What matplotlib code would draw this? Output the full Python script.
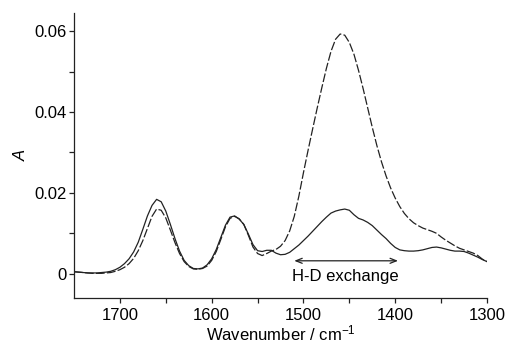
import numpy as np
import matplotlib
matplotlib.use("Agg")
import matplotlib.pyplot as plt

plt.rcParams['font.family'] = ['Liberation Sans', 'DejaVu Sans']
plt.rcParams['mathtext.default'] = 'regular'

# wavenumber grid, 1750 -> 1300 cm-1 in 5 cm-1 steps
wavenumber = np.arange(1750, 1295, -5)

# absorbance, solid trace
a_solid = [
    0.0005, 0.0004, 0.0003, 0.0002, 0.0002, 0.0002, 0.0003, 0.0004, 0.0006, 0.0010,
    0.0016, 0.0025, 0.0037, 0.0054, 0.0078, 0.0110, 0.0143, 0.0169, 0.0184, 0.0178,
    0.0155, 0.0122, 0.0087, 0.0056, 0.0033, 0.0020, 0.0013, 0.0012, 0.0014, 0.0022,
    0.0037, 0.0060, 0.0090, 0.0120, 0.0140, 0.0143, 0.0135, 0.0122, 0.0098, 0.0072,
    0.0057, 0.0055, 0.0058, 0.0058, 0.0051, 0.0047, 0.0048, 0.0053, 0.0062, 0.0071,
    0.0082, 0.0093, 0.0105, 0.0117, 0.0129, 0.0140, 0.0150, 0.0155, 0.0158, 0.0160,
    0.0157, 0.0146, 0.0137, 0.0133, 0.0127, 0.0119, 0.0108, 0.0097, 0.0087, 0.0075,
    0.0065, 0.0059, 0.0057, 0.0056, 0.0056, 0.0057, 0.0059, 0.0062, 0.0065, 0.0066,
    0.0064, 0.0061, 0.0058, 0.0056, 0.0056, 0.0055, 0.0051, 0.0046, 0.0041, 0.0035,
    0.0030,
]

# absorbance, dashed trace
a_dashed = [
    0.0005, 0.0004, 0.0003, 0.0002, 0.0001, 0.0001, 0.0001, 0.0002, 0.0003, 0.0006,
    0.0010, 0.0016, 0.0025, 0.0038, 0.0057, 0.0082, 0.0112, 0.0142, 0.0160, 0.0157,
    0.0138, 0.0108, 0.0077, 0.0050, 0.0030, 0.0018, 0.0012, 0.0011, 0.0013, 0.0019,
    0.0033, 0.0055, 0.0085, 0.0116, 0.0137, 0.0142, 0.0136, 0.0122, 0.0095, 0.0066,
    0.0050, 0.0045, 0.0050, 0.0056, 0.0060, 0.0068, 0.0082, 0.0106, 0.0142, 0.0192,
    0.0250, 0.0305, 0.0358, 0.0410, 0.0460, 0.0508, 0.0550, 0.0580, 0.0593, 0.0590,
    0.0572, 0.0543, 0.0503, 0.0458, 0.0410, 0.0362, 0.0317, 0.0277, 0.0242, 0.0212,
    0.0187, 0.0166, 0.0149, 0.0136, 0.0126, 0.0119, 0.0113, 0.0109, 0.0105, 0.0100,
    0.0091, 0.0083, 0.0076, 0.0069, 0.0063, 0.0059, 0.0055, 0.0051, 0.0045, 0.0036,
    0.0030,
]

x_major = [1700, 1600, 1500, 1400, 1300]
y_major = [0, 0.02, 0.04, 0.06]
y_labels = ['0', '0.02', '0.04', '0.06']

fig = plt.figure(figsize=(5.09, 3.43), dpi=100)
ax = fig.add_axes([0.1454, 0.1312, 0.8114, 0.831])

ax.plot(wavenumber, a_solid, color='#222222', lw=0.9)
ax.plot(wavenumber, a_dashed, color='#222222', lw=0.9, linestyle=(0, (7, 1.8)))

# exchange region marker
ax.annotate('', xy=(1397, 0.0032), xytext=(1510, 0.0032),
            arrowprops=dict(arrowstyle='<->,head_length=0.45,head_width=0.18',
                            lw=0.9, color='#222222', shrinkA=0, shrinkB=0))
ax.text(1454, -0.0008, 'H-D exchange', ha='center', va='center', fontsize=12)

ax.set_xlim(1750, 1300)
ax.set_ylim(-0.006, 0.0645)

ax.set_xticks(x_major)
ax.set_xticks([1650, 1550, 1450, 1350], minor=True)
ax.set_yticks(y_major)
ax.set_yticklabels(y_labels)
ax.set_yticks([0.01, 0.03, 0.05], minor=True)

ax.tick_params(axis='both', which='both', direction='out', length=3.5, width=0.9,
               labelsize=12, color='#222222')
ax.tick_params(axis='x', which='both', pad=4)
ax.tick_params(axis='y', which='both', pad=2)

for side in ['top', 'right']:
    ax.spines[side].set_visible(False)
for side in ['left', 'bottom']:
    ax.spines[side].set_linewidth(0.9)
    ax.spines[side].set_color('#222222')

xl = ax.set_xlabel('Wavenumber / cm$^{-1}$', fontsize=12)
xl.set_va('center')
ax.xaxis.set_label_coords(0.5, -0.125)
ax.set_ylabel('A', fontsize=12, style='italic', labelpad=4)

fig.savefig('out.png', dpi=100)
